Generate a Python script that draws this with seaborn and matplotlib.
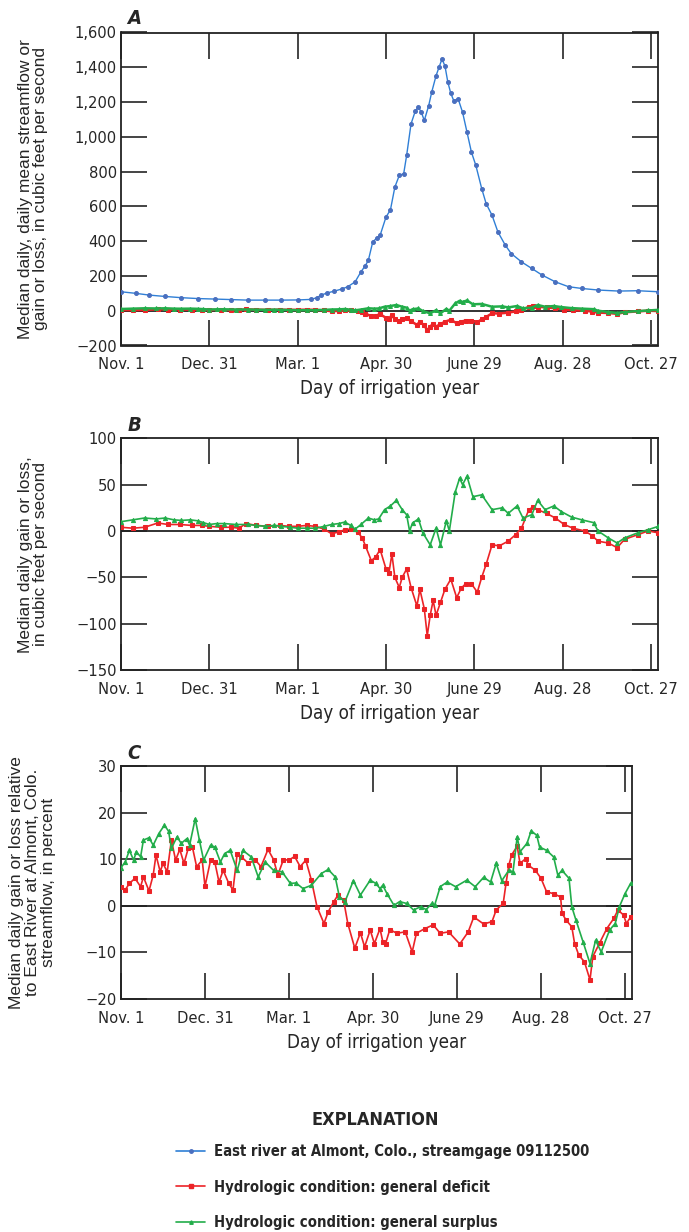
import matplotlib
matplotlib.use("Agg")
import matplotlib.pyplot as plt
from matplotlib.lines import Line2D
import seaborn as sns
import pandas as pd

# %% data (day 0 = Nov. 1)
blue_day = [0, 10, 19, 30, 41, 52, 64, 75, 86, 98, 109, 120, 129, 133, 136, 140, 145, 150, 154, 159,
            163, 166, 168, 171, 174, 176, 180, 183, 186, 189, 192, 194, 197, 200, 202, 204, 206, 209,
            211, 214, 216, 218, 220, 222, 224, 226, 229, 232, 235, 238, 241, 245, 248, 252, 256, 261,
            265, 272, 279, 286, 295, 304, 313, 324, 338, 351, 365]
blue_cfs = [109, 100, 90, 82, 75, 70, 67, 64, 61, 61, 61, 62, 65, 75, 90, 102, 113, 125, 138, 166,
            224, 260, 290, 396, 420, 434, 539, 580, 711, 778, 788, 893, 1075, 1151, 1170, 1141, 1094, 1180,
            1256, 1352, 1400, 1447, 1409, 1314, 1250, 1208, 1218, 1141, 1027, 912, 836, 702, 616, 549, 453, 377,
            329, 281, 243, 205, 166, 138, 128, 119, 113, 115, 109]

deficit_day = [0, 8, 16, 25, 32, 40, 48, 55, 60, 68, 75, 80, 85, 92, 100, 108, 114, 120, 126, 132,
               138, 143, 148, 152, 156, 161, 164, 166, 170, 173, 176, 180, 182, 184, 186, 189, 191, 194,
               197, 201, 203, 206, 208, 210, 212, 214, 217, 220, 224, 228, 231, 234, 238, 242, 245, 248,
               252, 257, 263, 268, 272, 277, 280, 283, 289, 295, 301, 307, 315, 320, 324, 331, 337, 342,
               351, 358, 365]
deficit_cfs = [4, 3, 4, 8.6, 7, 7, 6, 6, 5, 4, 4, 3, 8, 6, 5, 6, 5, 5, 6, 5,
               2, -3, -1, 1.4, 2, -1.4, -8, -16, -32, -28, -20, -41, -45, -25, -50, -61, -50, -41,
               -61, -81, -63, -84, -113, -91, -75, -91, -77, -63, -52, -72, -62, -57, -57, -66, -50, -36,
               -15, -16, -11, -4, 3, 23, 26, 23, 19, 14, 7, 3, 0, -5, -11, -13, -18, -9,
               -4, 0, -2]

surplus_day = [0, 8, 16, 24, 30, 36, 41, 47, 52, 56, 60, 65, 70, 78, 86, 92, 98, 104, 109, 115,
               120, 126, 132, 138, 143, 148, 152, 156, 159, 163, 168, 172, 175, 179, 183, 187, 191, 194,
               196, 198, 202, 205, 210, 214, 217, 221, 223, 227, 230, 232, 235, 239, 245, 252, 259, 263,
               269, 273, 279, 283, 288, 294, 299, 306, 313, 321, 324, 331, 337, 342, 351, 358, 365]
surplus_cfs = [10, 12, 14, 13, 14, 12, 11.4, 12, 11, 9, 7, 8, 8, 7, 7, 6, 5, 6, 5, 4,
               3, 3, 3, 5, 7, 8, 9.6, 6, 2, 7, 14, 12, 13, 23, 27, 33, 23, 17.5,
               0, 8.6, 13, -2, -15, 3, -15, 11, 0, 42, 57, 50, 59, 37, 39, 23, 25, 19,
               27, 14, 17.5, 33, 23, 27, 21, 15, 12, 9, 0, -7.5, -13, -7.5, -2, 1.4, 5]

deficit_pct_day = [0, 3, 6, 10, 14, 16, 20, 23, 25, 28, 30, 33, 36, 39, 42, 45, 48, 51, 54, 58,
                   60, 64, 67, 70, 73, 77, 80, 83, 86, 91, 96, 100, 105, 109, 112, 116, 120, 124, 128,
                   132, 136, 140, 145, 148, 152, 155, 159, 162, 167, 171, 174, 178, 181, 185, 187, 189,
                   192, 197, 203, 208, 211, 217, 223, 228, 234, 242, 248, 252, 259, 265, 268, 273, 275,
                   277, 279, 283, 285, 289, 291, 296, 300, 304, 309, 314, 315, 318, 322, 324, 327, 331,
                   335, 337, 342, 347, 352, 355, 359, 361, 364]
deficit_pct = [4.1, 3.4, 4.8, 5.9, 4.1, 6.2, 3.2, 6.6, 10.9, 7.3, 9.1, 7.3, 14.1, 9.8, 12.1, 9.1, 12.3, 12.6, 8.4, 9.8,
               4.2, 9.8, 9.4, 5.1, 7.6, 4.8, 3.4, 11.2, 10.5, 9.1, 9.8, 8.4, 12.1, 9.9, 6.6, 9.9, 9.8, 10.6, 8.4,
               9.8, 5.5, -0.2, -3.8, -1.3, 0.9, 2.3, 1.2, -3.8, -9.1, -5.8, -8.8, -5.2, -8.1, -4.9, -7.7, -8.1,
               -5.1, -5.9, -5.6, -9.9, -5.9, -4.9, -4.1, -5.9, -5.6, -8.2, -5.6, -2.4, -3.9, -3.4, -0.9, 0.5, 4.8,
               8.7, 10.9, 12.8, 9.1, 10.1, 8.7, 7.6, 5.9, 3.0, 2.6, 1.9, -1.6, -3.1, -4.5, -8.1, -10.6, -12.0,
               -15.9, -10.9, -7.9, -4.9, -2.7, -0.9, -2.0, -3.8, -2.4]

surplus_pct_day = [0, 3, 6, 9, 11, 14, 16, 20, 23, 27, 31, 34, 36, 40, 43, 47, 49, 53, 56, 59,
                   64, 67, 71, 74, 78, 83, 87, 93, 98, 103, 109, 115, 121, 125, 130, 136, 143, 148, 153,
                   156, 160, 166, 171, 178, 182, 185, 187, 190, 195, 199, 204, 209, 214, 218, 222, 224,
                   228, 233, 239, 247, 253, 259, 264, 268, 272, 277, 280, 283, 285, 290, 293, 297, 299,
                   304, 309, 312, 315, 320, 322, 325, 330, 335, 339, 343, 349, 353, 356, 360, 364]
surplus_pct = [8.2, 9.4, 11.9, 9.8, 11.6, 10.5, 14.1, 14.6, 13.0, 15.5, 17.3, 16.0, 12.3, 14.8, 13.4, 14.4, 13.0, 18.7, 14.1, 9.8,
               13.0, 12.6, 9.4, 11.2, 11.9, 7.6, 11.9, 10.5, 6.2, 9.4, 7.6, 7.3, 4.8, 4.9, 3.7, 4.4, 6.9, 7.8, 6.2,
               1.9, 0.9, 5.4, 2.3, 5.5, 4.8, 3.7, 4.4, 2.6, 0.1, 0.9, 0.5, -0.9, -0.2, -0.8, 0.5, 0.1,
               4.1, 5.1, 4.1, 5.5, 4.1, 6.1, 5.1, 9.1, 5.4, 7.6, 7.3, 14.8, 11.6, 13.4, 16.1, 15.1, 12.6,
               11.9, 10.5, 6.6, 7.6, 5.9, -0.2, -3.1, -7.7, -12.4, -7.4, -9.9, -5.2, -3.8, -0.2, 2.6, 4.8]

tick_days = [0, 60, 120, 180, 240, 300, 360]
tick_labels = ["Nov. 1", "Dec. 31", "Mar. 1", "Apr. 30", "June 29", "Aug. 28", "Oct. 27"]

labels = ["East river at Almont, Colo., streamgage 09112500",
          "Hydrologic condition: general deficit",
          "Hydrologic condition: general surplus"]

# %% style
sns.set_style("ticks")
narrow = ["DejaVu Sans", "Liberation Sans"]
plain = ["Liberation Sans", "DejaVu Sans"]
plt.rcParams["font.family"] = narrow
plt.rcParams["font.stretch"] = "condensed"

c_blue_line, c_blue_mk = "#2f7fd6", "#4a6fbf"
c_red = "#ec2327"
c_green = "#22ad4a"

fig = plt.figure(figsize=(6.89, 12.32), dpi=100)
W, H = 689, 1232


def add_ax(left, top, right, bottom):
    return fig.add_axes([left / W, 1 - bottom / H, (right - left) / W, (bottom - top) / H])


axA = add_ax(121, 32.5, 658.4, 345.5)
axB = add_ax(121, 438.3, 658.4, 670)
axC = add_ax(121, 766, 632, 999)


def draw(ax, day, val, color, mk, mcolor, ms, lw=1.2):
    d = pd.DataFrame({"day": day, "val": val})
    sns.lineplot(data=d, x="day", y="val", ax=ax, color=color, lw=lw, marker=mk, markersize=ms,
                 markerfacecolor=mcolor, markeredgecolor=mcolor, estimator=None, sort=False, zorder=3)


def style(ax, ylim, yticks, yticklabels, ylabel, letter, labelx):
    ax.axhline(0, color="#222222", lw=1.3, zorder=2)
    ax.set_xlim(0, 365)
    ax.set_ylim(*ylim)
    ax.set_xticks(tick_days)
    ax.set_xticklabels(tick_labels, fontsize=11.8)
    ax.set_yticks(yticks)
    ax.set_yticklabels(yticklabels, fontsize=11.8)
    ax.tick_params(direction="in", length=19, width=1.4, color="#444444", top=True, right=True)
    ax.tick_params(axis="x", pad=8.5)
    ax.tick_params(axis="y", pad=3)
    for s in ax.spines.values():
        s.set_linewidth(1.3)
        s.set_color("#222222")
    ax.set_xlabel("Day of irrigation year", fontsize=13.5, labelpad=5)
    ax.set_ylabel(ylabel, fontsize=12.5, family=plain, stretch="normal", linespacing=1.05)
    ax.yaxis.set_label_coords(labelx, 0.5)
    ax.text(0.012, 1.015, letter, transform=ax.transAxes, fontsize=14.5, fontweight="bold",
            fontstyle="italic", ha="left", va="bottom")


draw(axA, blue_day, blue_cfs, c_blue_line, "o", c_blue_mk, 2.8, 1.0)
draw(axA, deficit_day, deficit_cfs, c_red, "s", c_red, 2.8, 1.8)
draw(axA, surplus_day, surplus_cfs, c_green, "^", c_green, 2.8, 1.8)
style(axA, (-200, 1600), range(-200, 1601, 200),
      ["\u2212200", "0", "200", "400", "600", "800", "1,000", "1,200", "1,400", "1,600"],
      "Median daily, daily mean streamflow or\ngain or loss, in cubic feet per second", "A", -0.135)

draw(axB, deficit_day, deficit_cfs, c_red, "s", c_red, 3.0)
draw(axB, surplus_day, surplus_cfs, c_green, "^", c_green, 3.0)
style(axB, (-150, 100), range(-150, 101, 50),
      ["\u2212150", "\u2212100", "\u221250", "0", "50", "100"],
      "Median daily gain or loss,\nin cubic feet per second", "B", -0.135)

draw(axC, deficit_pct_day, deficit_pct, c_red, "s", c_red, 3.0)
draw(axC, surplus_pct_day, surplus_pct, c_green, "^", c_green, 3.0)
style(axC, (-20, 30), range(-20, 31, 10),
      ["\u221220", "\u221210", "0", "10", "20", "30"],
      "Median daily gain or loss relative\nto East River at Almont, Colo.\nstreamflow, in percent", "C", -0.128)

# %% explanation
fig.text(375 / W, 1 - 1120 / H, "EXPLANATION", ha="center", va="center", fontsize=13, fontweight="bold")
handles = [Line2D([], [], color=c_blue_line, lw=1.2, marker="o", ms=2.5, mfc=c_blue_mk, mec=c_blue_mk),
           Line2D([], [], color=c_red, lw=1.2, marker="s", ms=2.5),
           Line2D([], [], color=c_green, lw=1.2, marker="^", ms=2.5)]
fig.legend(handles, labels, loc="upper left", bbox_to_anchor=(176 / W, 1 - 1144 / H), frameon=False,
           prop={"family": narrow, "weight": "bold", "size": 10.6, "stretch": "condensed"},
           handlelength=2.0, handletextpad=0.55, labelspacing=1.4, borderaxespad=0, borderpad=0)

fig.savefig("out.png", dpi=100)
